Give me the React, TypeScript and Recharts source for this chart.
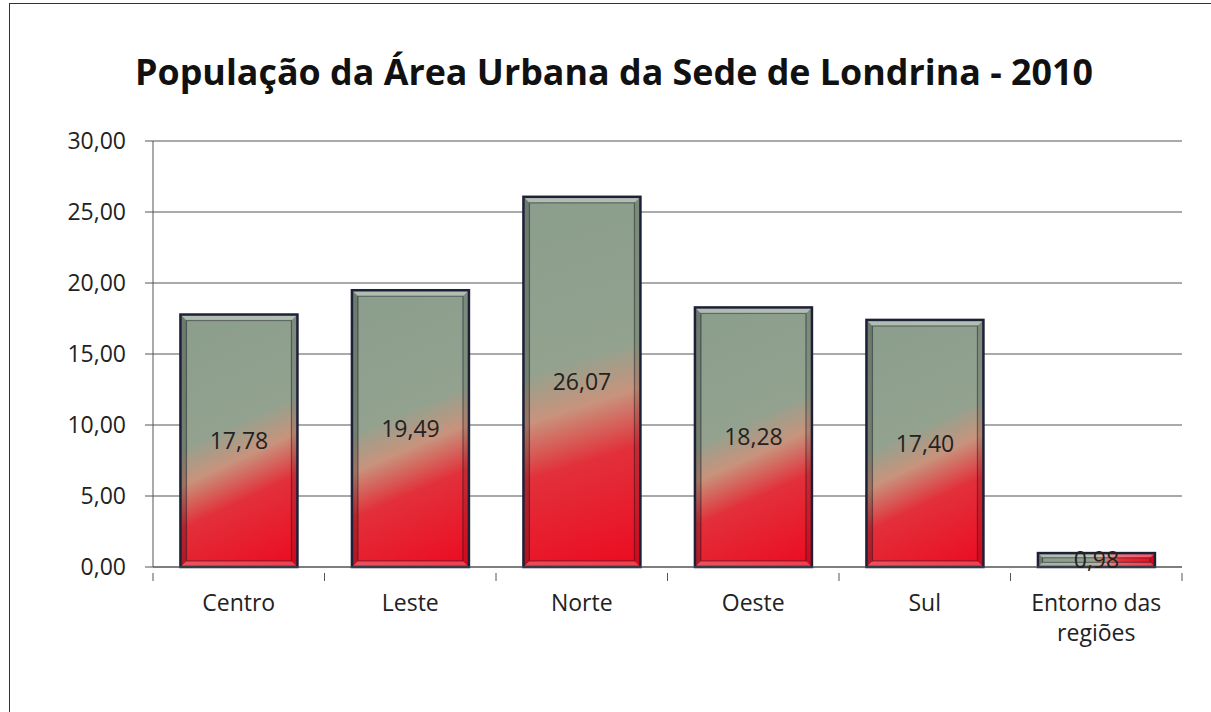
import React from "react";
import { BarChart, Bar, XAxis, YAxis, CartesianGrid, LabelList } from "recharts";

const categories = ["Centro", "Leste", "Norte", "Oeste", "Sul", "Entorno das regiões"];
const populationShare = [17.78, 19.49, 26.07, 18.28, 17.4, 0.98];
const yTicks = [0, 5, 10, 15, 20, 25, 30];

const data = categories.map((name, i) => ({ name, value: populationShare[i] }));

const fmt = (v: number) => v.toFixed(2).replace(".", ",");
const FONT = "'Open Sans', 'DejaVu Sans', sans-serif";

const splitLabel = (s: string) => {
  const words = s.split(" ");
  const lines: string[] = [];
  let cur = "";
  for (const w of words) {
    const next = cur ? cur + " " + w : w;
    if (next.length > 12 && cur) {
      lines.push(cur);
      cur = w;
    } else cur = next;
  }
  if (cur) lines.push(cur);
  return lines;
};

const CategoryTick = (props: any) => {
  const { x, y, payload, index } = props;
  const half = payload?.offset ?? 85.75;
  const lines = splitLabel(String(payload.value));
  const axisY = y - 22;
  return (
    <g>
      <line x1={x - half} x2={x - half} y1={axisY} y2={axisY + 8} stroke="#555" />
      {index === categories.length - 1 && (
        <line x1={x + half} x2={x + half} y1={axisY} y2={axisY + 8} stroke="#555" />
      )}
      <text x={x} y={y} textAnchor="middle" fill="#222" fontSize={23} fontFamily={FONT}>
        {lines.map((l, i) => (
          <tspan key={i} x={x} dy={i === 0 ? "0.71em" : 30}>
            {l}
          </tspan>
        ))}
      </text>
    </g>
  );
};

const BevelBar = (props: any) => {
  const { x, y, width, height, index } = props;
  if (!height || height <= 0) return null;
  const id = `barGrad${index}`;
  const b = Math.min(6, height / 3);
  const x2 = x + width;
  const y2 = y + height;
  return (
    <g>
      <defs>
        <linearGradient id={id} gradientUnits="userSpaceOnUse" x1={x} y1={y} x2={x2} y2={y2}>
          <stop offset="0" stopColor="#8b9d8c" />
          <stop offset="0.44" stopColor="#92a28f" />
          <stop offset="0.56" stopColor="#c8937c" />
          <stop offset="0.7" stopColor="#e2303a" />
          <stop offset="1" stopColor="#ec0a20" />
        </linearGradient>
      </defs>
      <rect x={x} y={y} width={width} height={height} fill={`url(#${id})`} />
      <polygon points={`${x},${y} ${x2},${y} ${x2 - b},${y + b} ${x + b},${y + b}`} fill="rgba(255,255,255,0.32)" />
      <polygon points={`${x},${y2} ${x2},${y2} ${x2 - b},${y2 - b} ${x + b},${y2 - b}`} fill="rgba(255,255,255,0.22)" />
      <polygon points={`${x},${y} ${x + b},${y + b} ${x + b},${y2 - b} ${x},${y2}`} fill="rgba(0,0,0,0.22)" />
      <polygon points={`${x2},${y} ${x2 - b},${y + b} ${x2 - b},${y2 - b} ${x2},${y2}`} fill="rgba(0,0,0,0.12)" />
      <rect x={x + b} y={y + b} width={Math.max(0, width - 2 * b)} height={Math.max(0, height - 2 * b)} fill="none" stroke="rgba(20,20,30,0.45)" strokeWidth={1.2} />
      <rect x={x} y={y} width={width} height={height} fill="none" stroke="#1d2138" strokeWidth={2.5} />
    </g>
  );
};

export default function App() {
  return (
    <div style={{ position: "absolute", left: 0, top: 0, width: 1211, height: 712, background: "#fff", overflow: "hidden" }}>
      <div
        style={{
          position: "absolute",
          left: 9,
          top: 3,
          width: 1260,
          height: 760,
          border: "1.5px solid #333",
        }}
      />
      <svg width={1211} height={712} style={{ position: "absolute", left: 0, top: 0 }}>
        <text
          x={614}
          y={85}
          textAnchor="middle"
          fontFamily={FONT}
          fontWeight={700}
          fontSize={36}
          fill="#111"
          textLength={958}
          lengthAdjust="spacingAndGlyphs"
        >
          População da Área Urbana da Sede de Londrina - 2010
        </text>
      </svg>
      <div style={{ position: "absolute", left: 0, top: 0 }}>
        <BarChart
          width={1211}
          height={712}
          data={data}
          margin={{ top: 141, right: 29, bottom: 0, left: 73 }}
          barCategoryGap="16%"
        >
          <CartesianGrid vertical={false} stroke="#555" strokeWidth={1} />
          <XAxis
            dataKey="name"
            interval={0}
            height={145}
            axisLine={{ stroke: "#555" }}
            tickLine={false}
            tickMargin={22}
            tick={<CategoryTick />}
          />
          <YAxis
            width={80}
            domain={[0, 30]}
            ticks={yTicks}
            tickFormatter={fmt}
            axisLine={{ stroke: "#555" }}
            tickLine={{ stroke: "#555" }}
            tickSize={8}
            tickMargin={19}
            tick={{ fill: "#222", fontSize: 23, fontFamily: FONT }}
          />
          <Bar dataKey="value" shape={<BevelBar />} isAnimationActive={false}>
            <LabelList dataKey="value" position="center" formatter={(v: any) => fmt(Number(v))} fill="#222" fontSize={23} fontFamily={FONT} />
          </Bar>
        </BarChart>
      </div>
    </div>
  );
}
